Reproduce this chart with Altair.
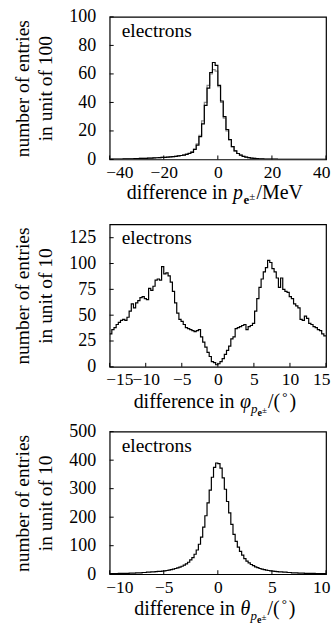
import altair as alt
import pandas as pd

FONT = "'Liberation Serif', 'Times New Roman', 'DejaVu Serif', serif"
W, H = 217, 143

# ---------------- data ----------------
# panel 1: momentum difference (MeV), 1 MeV bins from -40, entries / 100
p_start, p_width = -40, 1.0
p_counts = [0.2, 0.2, 0.3, 0.3, 0.3, 0.4, 0.4, 0.5, 0.5, 0.6,
            0.6, 0.7, 0.7, 0.8, 0.9, 1.0, 1.1, 1.2, 1.3, 1.4,
            1.5, 1.6, 1.8, 2.0, 2.2, 2.5, 2.8, 3.1, 3.6, 4.2,
            5, 7, 10, 16, 25, 38, 50, 61, 68, 66,
            52, 41, 30, 21, 14, 9, 6, 4.2, 3, 2.2,
            1.7, 1.3, 1.0, 0.8, 0.6, 0.5, 0.4, 0.3, 0.3, 0.2,
            0.2, 0.2, 0.1, 0.1, 0.1, 0.1, 0.1, 0.1, 0.1, 0.1,
            0.1, 0.1, 0.1, 0.05, 0.05, 0.05, 0.05, 0.05, 0.05, 0.05]
p_counts_ref = [0.2, 0.2, 0.3, 0.3, 0.3, 0.4, 0.4, 0.5, 0.5, 0.6,
                0.6, 0.7, 0.7, 0.8, 0.9, 1.0, 1.1, 1.2, 1.3, 1.4,
                1.5, 1.6, 1.8, 2.0, 2.2, 2.5, 2.8, 3.2, 3.8, 4.5,
                5.5, 7.5, 11, 17, 27, 40, 52, 60, 63, 62,
                51, 40, 29, 20, 13.5, 9, 6, 4.2, 3, 2.2,
                1.7, 1.3, 1.0, 0.8, 0.6, 0.5, 0.4, 0.3, 0.3, 0.2,
                0.2, 0.2, 0.1, 0.1, 0.1, 0.1, 0.1, 0.1, 0.1, 0.1,
                0.1, 0.1, 0.1, 0.05, 0.05, 0.05, 0.05, 0.05, 0.05, 0.05]

# panel 2: phi difference (deg), 0.3 deg bins from -15, entries / 10
phi_start, phi_width = -15, 0.3
phi_counts = [32, 36, 38, 41, 43, 45, 46, 45, 48, 54,
              61, 57, 62, 64, 67, 68, 66, 65, 76, 74,
              78, 84, 85, 84, 97, 90, 91, 88, 82, 73,
              62, 52, 46, 44, 41, 38, 37, 36, 35, 34,
              35, 36, 29, 24, 19, 14, 10, 5, 4, 2,
              3, 5, 8, 12, 16, 20, 27, 29, 37, 38,
              39, 40, 41, 36, 39, 40, 42, 54, 66, 77,
              85, 92, 96, 103, 101, 95, 92, 86, 77, 86,
              75, 73, 72, 68, 66, 61, 59, 57, 46, 45,
              49, 47, 42, 41, 39, 38, 36, 35, 32, 30]

# panel 3: theta difference (deg), 0.2 deg bins from -10, entries / 10
th_start, th_width = -10, 0.2
th_counts = [2, 2, 2, 2, 3, 3, 3, 3, 3, 4,
             4, 4, 5, 5, 5, 6, 6, 7, 7, 8,
             8, 9, 10, 10, 11, 12, 13, 14, 16, 18,
             20, 22, 25, 28, 32, 36, 42, 50, 58, 70,
             85, 105, 130, 165, 205, 250, 295, 340, 375, 390,
             388, 372, 338, 298, 255, 215, 175, 140, 115, 95,
             80, 67, 55, 46, 40, 34, 30, 26, 23, 20,
             18, 16, 14, 13, 12, 11, 10, 9, 8, 8,
             7, 7, 6, 6, 5, 5, 5, 4, 4, 4,
             3, 3, 3, 3, 3, 2, 2, 2, 2, 2]

label_text = "electrons"

# ---------------- helpers ----------------
def steps(start, width, counts):
    xs = [start + i * width for i in range(len(counts) + 1)]
    ys = list(counts) + [counts[-1]]
    return pd.DataFrame({"x": xs, "y": ys})

# approximate Times advance widths (em)
CW = {"d": .5, "i": .278, "f": .333, "e": .444, "r": .333, "n": .5, "c": .444,
      " ": .25, "p": .5, "M": .889, "V": .722, "/": .278, "(": .333, ")": .333,
      "°": .4, "φ": .56, "θ": .5, "±": .564}

def tw(s, size):
    return sum(CW.get(ch, .5) for ch in s) * size

def title_layers(pieces, center_x, base_y):
    total = sum(tw(t, s) + gap for t, s, st, wt, dy, gap in pieces)
    x = center_x - total / 2
    out = []
    for t, s, st, wt, dy, gap in pieces:
        out.append(alt.Chart(pd.DataFrame({"t": [t]})).mark_text(
            text=t, font=FONT, fontSize=s, fontStyle=st, fontWeight=wt,
            align="left", baseline="alphabetic", color="black"
        ).encode(x=alt.value(x), y=alt.value(base_y + dy)))
        x += tw(t, s) + gap
    return out

def panel(series, xdom, xticks, ydom, yticks, ytitle, pieces, h=H, title_dy=40):
    xs = alt.Scale(domain=xdom, nice=False, zero=False)
    ys = alt.Scale(domain=ydom, nice=False, zero=False)
    xa = alt.Axis(values=xticks, title=None, ticks=False, domain=False, grid=False,
                  labelFont=FONT, labelFontSize=17.5, labelColor="black",
                  labelPadding=4, format="d", labelOverlap=False,
                  labelFlush=True, labelFlushOffset=4)
    ya = alt.Axis(values=yticks, title=ytitle, ticks=False, domain=False, grid=False,
                  labelFont=FONT, labelFontSize=18, labelColor="black",
                  labelPadding=14, format="d", labelOverlap=False,
                  titleFont=FONT, titleFontSize=19.5, titleFontWeight="normal",
                  titleColor="black", titleLineHeight=23, titlePadding=13)
    layers = []
    for df, color in series:
        layers.append(alt.Chart(df).mark_line(
            interpolate="step-after", color=color, strokeWidth=1.2, clip=True
        ).encode(x=alt.X("x:Q", scale=xs, axis=xa), y=alt.Y("y:Q", scale=ys, axis=ya)))
    xt = pd.DataFrame({"x": xticks})
    layers.append(alt.Chart(xt).mark_rule(color="black", strokeWidth=1).encode(
        x=alt.X("x:Q", scale=xs, axis=xa), y=alt.value(h), y2=alt.value(h - 4)))
    yt = pd.DataFrame({"y": yticks})
    layers.append(alt.Chart(yt).mark_rule(color="black", strokeWidth=1).encode(
        y=alt.Y("y:Q", scale=ys, axis=ya), x=alt.value(0), x2=alt.value(4)))
    layers.append(alt.Chart(pd.DataFrame({"t": [label_text]})).mark_text(
        text=label_text, font=FONT, fontSize=19.5, align="left", baseline="alphabetic",
        color="black").encode(x=alt.value(12), y=alt.value(20)))
    layers += title_layers(pieces, W / 2 - 3, h + title_dy)
    return alt.layer(*layers).properties(width=W, height=h)

main = 20
pieces1 = [("difference in ", main, "normal", "normal", 0, 0),
           ("p", main, "italic", "normal", 0, 0.5),
           ("e", 13, "normal", "bold", 5, 0),
           ("±", 11, "normal", "normal", 1, 1),
           ("/MeV", main, "normal", "normal", 0, 0)]
pieces2 = [("difference in ", main, "normal", "normal", 0, 0),
           ("φ", main, "italic", "normal", 0, 0),
           ("p", 13, "italic", "normal", 5, 0),
           ("e", 10, "normal", "bold", 8, 0),
           ("±", 9, "normal", "normal", 5, 1),
           ("/(", main, "normal", "normal", 0, 2),
           ("°", 13, "normal", "normal", -7, 2),
           (")", main, "normal", "normal", 0, 0)]
pieces3 = [("difference in ", main, "normal", "normal", 0, 0),
           ("θ", main, "italic", "normal", 0, 0),
           ("p", 13, "italic", "normal", 5, 0),
           ("e", 10, "normal", "bold", 8, 0),
           ("±", 9, "normal", "normal", 5, 1),
           ("/(", main, "normal", "normal", 0, 2),
           ("°", 13, "normal", "normal", -7, 2),
           (")", main, "normal", "normal", 0, 0)]

c1 = panel([(steps(p_start, p_width, p_counts_ref), "#8a8a8a"),
            (steps(p_start, p_width, p_counts), "black")],
           [-40, 40], [-40, -20, 0, 20, 40], [0, 100], [0, 20, 40, 60, 80, 100],
           ["number of entries", "in unit of 100"], pieces1, title_dy=40)
c2 = panel([(steps(phi_start, phi_width, phi_counts), "black")],
           [-15, 15], [-15, -10, -5, 0, 5, 10, 15], [0, 138], [0, 25, 50, 75, 100, 125],
           ["number of entries", "in unit of 10"], pieces2, title_dy=41)
c3 = panel([(steps(th_start, th_width, th_counts), "black")],
           [-10, 10], [-10, -5, 0, 5, 10], [0, 500], [0, 100, 200, 300, 400, 500],
           ["number of entries", "in unit of 10"], pieces3, title_dy=41)

chart = alt.vconcat(c1, c2, c3, spacing=65, bounds="flush").properties(
    padding={"left": 12, "top": 6, "right": 0, "bottom": 0},
    background="white",
).configure_view(stroke="black", strokeWidth=1.2)

chart.save("out.html", embed_options={"renderer": "svg", "actions": False})
